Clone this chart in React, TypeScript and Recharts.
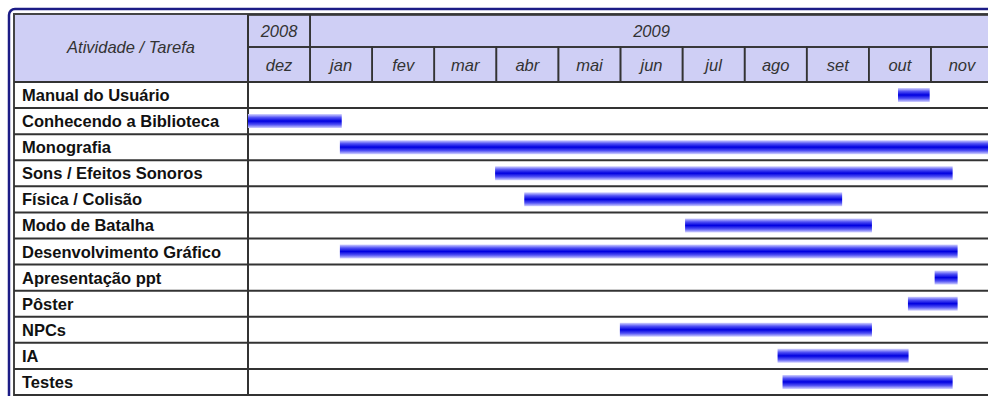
import React from 'react';
import { BarChart, Bar, XAxis, YAxis } from 'recharts';

const tasks = [
  'Manual do Usuário',
  'Conhecendo a Biblioteca',
  'Monografia',
  'Sons / Efeitos Sonoros',
  'Física / Colisão',
  'Modo de Batalha',
  'Desenvolvimento Gráfico',
  'Apresentação ppt',
  'Pôster',
  'NPCs',
  'IA',
  'Testes',
];
// month offsets from the start of dez/2008
const starts = [10.47, 0, 1.48, 3.98, 4.45, 7.04, 1.48, 11.06, 10.63, 5.99, 8.53, 8.61];
const ends = [10.98, 1.51, 12, 11.35, 9.57, 10.05, 11.43, 11.43, 11.43, 10.05, 10.64, 11.35];

const months = ['dez', 'jan', 'fev', 'mar', 'abr', 'mai', 'jun', 'jul', 'ago', 'set', 'out', 'nov'];
const years = [
  { label: '2008', from: 0, to: 1 },
  { label: '2009', from: 1, to: 12 },
];

const data = tasks.map((task, i) => ({ task, start: starts[i], span: ends[i] - starts[i] }));

// layout
const PLOT_L = 248;
const PLOT_R = 993;
const HEAD_T = 15;
const YEAR_B = 47;
const HEAD_B = 82;
const PLOT_B = 395;
const FRAME_L = 14;
const MONTH_W = (PLOT_R - PLOT_L) / 12;
const ROW_H = (PLOT_B - HEAD_B) / tasks.length;
const LINE = '#333';
const HEAD_BG = '#cfcff5';
const font = 'Arial, "Liberation Sans", sans-serif';

const MonthTick = (props: any) => {
  const { x, payload } = props;
  const idx = Math.floor(payload.value);
  return (
    <g>
      <rect x={x - MONTH_W / 2} y={YEAR_B} width={MONTH_W} height={HEAD_B - YEAR_B}
        fill="none" stroke={LINE} strokeWidth={1.6} />
      <text x={x} y={(YEAR_B + HEAD_B) / 2} textAnchor="middle" dominantBaseline="central"
        fontFamily={font} fontStyle="italic" fontSize={16.5} fill="#333">
        {months[idx]}
      </text>
    </g>
  );
};

const YearTick = (props: any) => {
  const { x, payload } = props;
  const yr = years.find(y => (y.from + y.to) / 2 === payload.value);
  if (!yr) return null;
  const w = (yr.to - yr.from) * MONTH_W;
  return (
    <g>
      <rect x={x - w / 2} y={HEAD_T} width={w} height={YEAR_B - HEAD_T}
        fill="none" stroke={LINE} strokeWidth={1.6} />
      <text x={x} y={(HEAD_T + YEAR_B) / 2} textAnchor="middle" dominantBaseline="central"
        fontFamily={font} fontStyle="italic" fontSize={16.5} fill="#333">
        {yr.label}
      </text>
    </g>
  );
};

const TaskTick = (props: any) => {
  const { y, payload } = props;
  return (
    <g>
      <line x1={FRAME_L} x2={PLOT_R} y1={y + ROW_H / 2} y2={y + ROW_H / 2} stroke={LINE} strokeWidth={2} />
      <text x={22} y={y} dominantBaseline="central" fontFamily={font} fontWeight="bold"
        fontSize={16.5} fill="#111">
        {payload.value}
      </text>
    </g>
  );
};

const Frame = () => (
  <svg width={988} height={396} style={{ position: 'absolute', left: 0, top: 0 }}>
    <defs>
      <linearGradient id="barGrad" x1="0" y1="0" x2="0" y2="1">
        <stop offset="0%" stopColor="#d4d4ff" />
        <stop offset="25%" stopColor="#5050f4" />
        <stop offset="50%" stopColor="#0000e0" />
        <stop offset="75%" stopColor="#5050f4" />
        <stop offset="100%" stopColor="#d4d4ff" />
      </linearGradient>
    </defs>
    <rect x={9} y={9} width={1000} height={420} rx={6} fill="#fff" stroke="#1c1c86" strokeWidth={2.5} />
    <rect x={FRAME_L} y={14} width={990} height={400} fill="#fff" stroke="#444" strokeWidth={2} />
    <rect x={FRAME_L + 1} y={HEAD_T} width={990} height={HEAD_B - HEAD_T} fill={HEAD_BG} />
    <line x1={FRAME_L} x2={PLOT_R} y1={HEAD_B} y2={HEAD_B} stroke={LINE} strokeWidth={2} />
    <line x1={PLOT_L} x2={PLOT_L} y1={HEAD_T} y2={PLOT_B} stroke={LINE} strokeWidth={2} />
    <text x={(FRAME_L + PLOT_L) / 2} y={YEAR_B} textAnchor="middle" dominantBaseline="central"
      fontFamily={font} fontStyle="italic" fontSize={16.5} fill="#333">
      Atividade / Tarefa
    </text>
  </svg>
);

export default function App() {
  return (
    <div style={{ position: 'fixed', left: 0, top: 0, width: 988, height: 396, overflow: 'hidden', background: '#fff' }}>
      <Frame />
      <div style={{ position: 'absolute', left: 0, top: 0 }}>
        <BarChart
          width={1000}
          height={396}
          data={data}
          layout="vertical"
          barSize={14}
          margin={{ top: HEAD_T, right: 1000 - PLOT_R, bottom: 396 - PLOT_B, left: FRAME_L }}
        >
          <XAxis xAxisId="month" type="number" orientation="top" domain={[0, 12]}
            ticks={months.map((_, i) => i + 0.5)} interval={0} height={HEAD_B - YEAR_B}
            axisLine={false} tickLine={false} tick={<MonthTick />} allowDataOverflow />
          <XAxis xAxisId="year" type="number" orientation="top" domain={[0, 12]}
            ticks={years.map(y => (y.from + y.to) / 2)} interval={0} height={YEAR_B - HEAD_T}
            axisLine={false} tickLine={false} tick={<YearTick />} allowDataOverflow />
          <YAxis type="category" dataKey="task" width={PLOT_L - FRAME_L} interval={0}
            axisLine={false} tickLine={false} tick={<TaskTick />} />
          <Bar xAxisId="month" dataKey="start" stackId="g" fill="transparent" isAnimationActive={false} />
          <Bar xAxisId="month" dataKey="span" stackId="g" fill="url(#barGrad)" isAnimationActive={false} />
        </BarChart>
      </div>
    </div>
  );
}
